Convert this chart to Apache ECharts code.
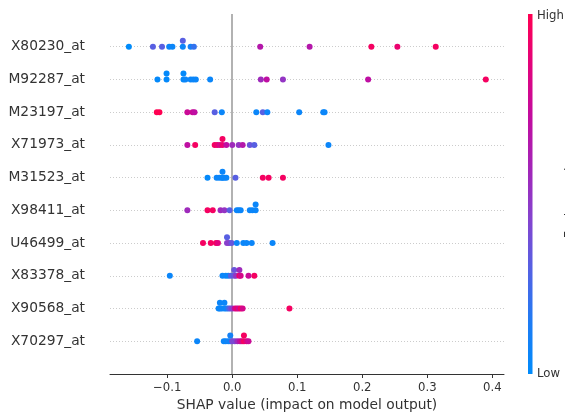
<!DOCTYPE html>
<html><head><meta charset="utf-8">
<script src="https://cdn.jsdelivr.net/npm/echarts@6/dist/echarts.min.js"></script>
<style>html,body{margin:0;padding:0;background:#fff;overflow:hidden}#c{width:565px;height:414px}</style>
</head><body><div id="c"></div>
<script>
// Features, listed top to bottom as in the chart
const featureNames = ['X80230_at','M92287_at','M23197_at','X71973_at','M31523_at','X98411_at','U46499_at','X83378_at','X90568_at','X70297_at'];
const xTicks = [-0.1, 0.0, 0.1, 0.2, 0.3, 0.4];
const colorbarLabels = ['High', 'Low'];

// SHAP values and (normalised) feature values per feature
const shap_X80230 = [-0.159,-0.122,-0.108,-0.097,-0.092,-0.076,-0.076,-0.064,-0.059,0.043,0.119,0.214,0.254,0.313];
const feat_X80230 = [0.0,0.3,0.3,0.05,0.05,0.05,0.3,0.1,0.2,0.65,0.65,0.95,0.9,0.95];
const shap_M92287 = [-0.115,-0.101,-0.101,-0.075,-0.075,-0.072,-0.064,-0.060,-0.056,-0.034,0.044,0.053,0.078,0.209,0.390];
const feat_M92287 = [0.02,0.02,0.02,0.02,0.02,0.05,0.05,0.05,0.05,0.05,0.55,0.7,0.5,0.7,0.95];
const shap_M23197 = [-0.116,-0.112,-0.069,-0.061,-0.058,-0.027,-0.016,0.037,0.047,0.054,0.103,0.140,0.142];
const feat_M23197 = [1,1,0.75,0.75,0.7,0.3,0.05,0.05,0.3,0.05,0.05,0.05,0.05];
const shap_X71973 = [-0.069,-0.057,-0.027,-0.023,-0.019,-0.015,-0.015,-0.009,0.000,0.010,0.016,0.027,0.034,0.148];
const feat_X71973 = [0.7,0.95,0.95,0.9,0.8,0.9,0.95,0.7,0.55,0.5,0.65,0.35,0.3,0.05];
const shap_M31523 = [-0.038,-0.024,-0.020,-0.016,-0.015,-0.015,-0.012,-0.009,0.005,0.047,0.056,0.078];
const feat_M31523 = [0.02,0.05,0.05,0.05,0.05,0.05,0.05,0.05,0.3,0.95,0.95,0.95];
const shap_X98411 = [-0.069,-0.038,-0.030,-0.018,-0.012,-0.004,0.007,0.010,0.013,0.027,0.031,0.036,0.036];
const feat_X98411 = [0.55,0.95,0.95,0.55,0.5,0.3,0.05,0.05,0.05,0.05,0.05,0.05,0.05];
const shap_U46499 = [-0.045,-0.033,-0.025,-0.022,-0.008,-0.008,-0.005,-0.001,0.007,0.017,0.022,0.030,0.062];
const feat_U46499 = [0.95,0.95,0.95,0.85,0.45,0.3,0.45,0.35,0.05,0.05,0.05,0.05,0.05];
const shap_X83378 = [-0.096,-0.015,-0.010,-0.006,-0.002,0.003,0.003,0.006,0.011,0.011,0.013,0.025,0.034];
const feat_X83378 = [0.05,0.05,0.05,0.05,0.3,0.35,0.35,0.5,0.95,0.55,0.8,0.75,0.95];
const shap_X90568 = [-0.021,-0.019,-0.019,-0.016,-0.012,-0.012,-0.009,-0.006,-0.003,0.000,0.004,0.007,0.010,0.013,0.016,0.088];
const feat_X90568 = [0.05,0.05,0.05,0.05,0.05,0.05,0.05,0.2,0.35,0.45,0.75,0.9,0.75,0.95,0.8,0.95];
const shap_X70297 = [-0.054,-0.013,-0.010,-0.006,-0.003,-0.003,0.000,0.004,0.008,0.012,0.015,0.018,0.018,0.022,0.025];
const feat_X70297 = [0.05,0.05,0.05,0.1,0.05,0.1,0.4,0.4,0.55,0.7,0.8,0.95,0.95,0.85,0.75];

const shapRows = [shap_X80230,shap_M92287,shap_M23197,shap_X71973,shap_M31523,shap_X98411,shap_U46499,shap_X83378,shap_X90568,shap_X70297];
const featRows = [feat_X80230,feat_M92287,feat_M23197,feat_X71973,feat_M31523,feat_X98411,feat_U46499,feat_X83378,feat_X90568,feat_X70297];

const colorStops = ['#008bfb','#1e7cf4','#5362e4','#8444cf','#a325b8','#c20c9f','#e2037c','#ff0052'];

function hexToRgb(h) { return [1, 3, 5].map(i => parseInt(h.substr(i, 2), 16)); }
function cmap(t) {
  t = Math.max(0, Math.min(1, t));
  const s = t * (colorStops.length - 1), i = Math.min(Math.floor(s), colorStops.length - 2), f = s - i;
  const a = hexToRgb(colorStops[i]), b = hexToRgb(colorStops[i + 1]);
  return 'rgb(' + a.map((v, k) => Math.round(v + (b[k] - v) * f)).join(',') + ')';
}

// shap-style beeswarm vertical layout
function beeswarm(vals) {
  const n = vals.length, mn = Math.min(...vals), mx = Math.max(...vals);
  const quant = vals.map(v => Math.round(100 * (v - mn) / (mx - mn + 1e-8)));
  const inds = vals.map((_, i) => i).sort((a, b) => (quant[a] - quant[b]) || (a - b));
  let layer = 0, last = -1; const ys = new Array(n).fill(0);
  for (const i of inds) {
    if (quant[i] !== last) layer = 0;
    ys[i] = Math.ceil(layer / 2) * ((layer % 2) * 2 - 1);
    layer++; last = quant[i];
  }
  const m = Math.max(...ys.map(y => y + 1));
  return ys.map(y => y * 0.9 * 0.4 / m);
}

const N = featureNames.length;
const points = [];
shapRows.forEach((vals, t) => {
  const pos = N - 1 - t;
  const ys = beeswarm(vals);
  vals.forEach((v, i) => points.push({value: [v, pos + ys[i], featRows[t][i]],
    itemStyle: {color: cmap(featRows[t][i])}}));
});

const FONT = 'DejaVu Sans';
const chart = echarts.init(document.getElementById('c'), null, {renderer: 'canvas'});
chart.setOption({
  animation: false,
  backgroundColor: '#fff',
  textStyle: {fontFamily: FONT},
  grid: {left: 110, right: 61, top: 14, bottom: 40, containLabel: false, outerBoundsMode: 'none'},
  xAxis: {
    type: 'value', min: -0.188, max: 0.418,
    axisLine: {show: true, onZero: false, lineStyle: {color: '#333', width: 1}},
    axisTick: {show: true, customValues: xTicks, length: 4, lineStyle: {color: '#333', width: 1}},
    axisLabel: {customValues: xTicks, fontSize: 11.7, color: '#333', margin: 8, fontFamily: FONT,
      formatter: v => (v < 0 ? '\u2212' : '') + Math.abs(v).toFixed(1)},
    splitLine: {show: false},
    name: 'SHAP value (impact on model output)', nameLocation: 'middle', nameGap: 22,
    nameTextStyle: {fontSize: 13.8, color: '#333', fontFamily: FONT}
  },
  yAxis: {
    type: 'value', min: -1, max: N, interval: 1,
    axisLine: {show: false}, axisTick: {show: false}, splitLine: {show: false},
    axisLabel: {fontSize: 13.8, color: '#333', margin: 25, fontFamily: FONT,
      formatter: v => (v >= 0 && v < N) ? featureNames[N - 1 - v] : ''}
  },
  series: [
    {
      type: 'scatter', data: [], z: 1, silent: true,
      markLine: {
        silent: true, symbol: 'none', label: {show: false}, animation: false, z: 1,
        data: featureNames.map((_, i) => ({yAxis: i, lineStyle: {color: '#cccccc', width: 1, type: [1, 2]}}))
          .concat([{xAxis: 0, lineStyle: {color: '#999999', width: 1.5, type: 'solid'}}])
      }
    },
    {
      type: 'scatter', data: points, symbol: 'circle', symbolSize: 6, z: 10, silent: true,
      itemStyle: {opacity: 1, borderWidth: 0},
      emphasis: {disabled: true}
    }
  ],
  graphic: [
    {type: 'rect', shape: {x: 528, y: 14, width: 4.5, height: 360}, z: 10,
     style: {fill: new echarts.graphic.LinearGradient(0, 1, 0, 0,
       colorStops.map((c, i) => ({offset: i / (colorStops.length - 1), color: c})))}},
    {type: 'text', x: 537, y: 16, z: 10, style: {text: colorbarLabels[0], fontSize: 11.7, fill: '#333', fontFamily: FONT, textVerticalAlign: 'middle'}},
    {type: 'text', x: 537, y: 374, z: 10, style: {text: colorbarLabels[1], fontSize: 11.7, fill: '#333', fontFamily: FONT, textVerticalAlign: 'middle'}},
    {type: 'text', x: 563.5, y: 195, rotation: Math.PI / 2, z: 10,
     style: {text: 'Feature value', fontSize: 12.7, fill: '#333', fontFamily: FONT, textAlign: 'center', textVerticalAlign: 'top'}}
  ]
});
</script>
</body></html>
